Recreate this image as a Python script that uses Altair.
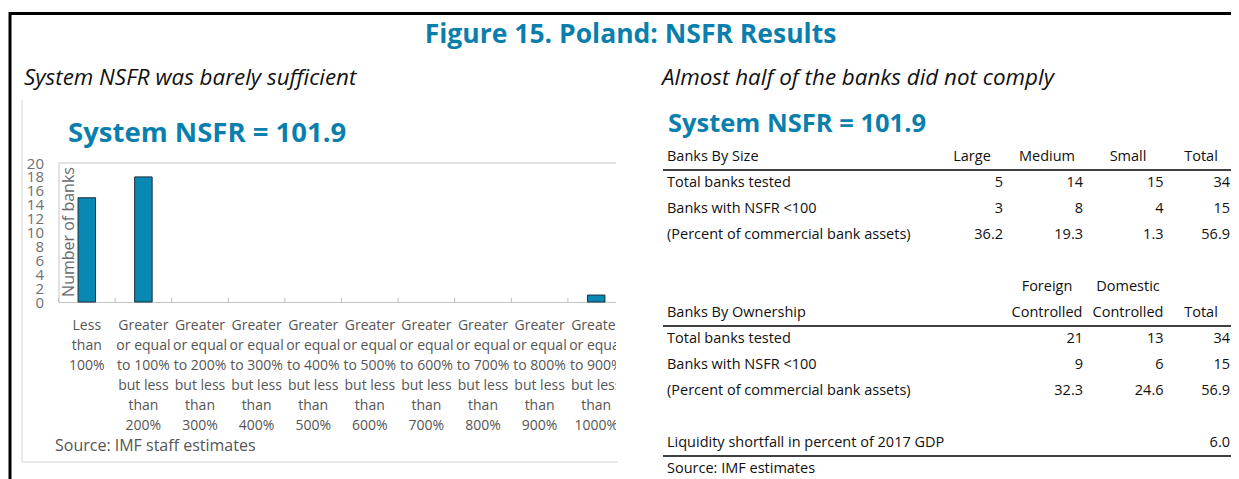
import altair as alt
import pandas as pd

FONT = "Open Sans"
BLUE = "#0a7fad"
BAR_BLUE = "#0789b3"
W, H = 1223, 471

# ---------------- data ----------------
nsfr_bins = [
    "Less\nthan\n100%",
    "Greater\nor equal\nto 100%\nbut less\nthan\n200%",
    "Greater\nor equal\nto 200%\nbut less\nthan\n300%",
    "Greater\nor equal\nto 300%\nbut less\nthan\n400%",
    "Greater\nor equal\nto 400%\nbut less\nthan\n500%",
    "Greater\nor equal\nto 500%\nbut less\nthan\n600%",
    "Greater\nor equal\nto 600%\nbut less\nthan\n700%",
    "Greater\nor equal\nto 700%\nbut less\nthan\n800%",
    "Greater\nor equal\nto 800%\nbut less\nthan\n900%",
    "Greater\nor equal\nto 900%\nbut less\nthan\n1000%",
]
bank_counts = [15, 18, 0, 0, 0, 0, 0, 0, 0, 1]
y_ticks = [0, 2, 4, 6, 8, 10, 12, 14, 16, 18, 20]

row_labels = ["Total banks tested", "Banks with NSFR <100", "(Percent of commercial bank assets)"]

size_cols = ["Large", "Medium", "Small", "Total"]
size_tested = [5, 14, 15, 34]
size_below = [3, 8, 4, 15]
size_pct = [36.2, 19.3, 1.3, 56.9]

own_cols_top = ["Foreign", "Domestic"]
own_cols = ["Controlled", "Controlled", "Total"]
own_tested = [21, 13, 34]
own_below = [9, 6, 15]
own_pct = [32.3, 24.6, 56.9]

liquidity_label = "Liquidity shortfall in percent of 2017 GDP"
liquidity_shortfall = 6.0

# ---------------- table records ----------------
table_rows = ["h1", "s_tested", "s_below", "s_pct", "gap1", "h2a", "h2b",
              "o_tested", "o_below", "o_pct", "gap2", "liq", "src"]
recs = []
recs.append({"row": "h1", "col": "label", "kind": "label", "text": "Banks By Size"})
for c, name in zip(["c1", "c2", "c3", "c4"], size_cols):
    recs.append({"row": "h1", "col": c, "kind": "head", "text": name})
for key, lab, vals, pct in [("s_tested", row_labels[0], size_tested, False),
                            ("s_below", row_labels[1], size_below, False),
                            ("s_pct", row_labels[2], size_pct, True)]:
    recs.append({"row": key, "col": "label", "kind": "label", "text": lab})
    for c, v in zip(["c1", "c2", "c3", "c4"], vals):
        recs.append({"row": key, "col": c, "kind": "value",
                     "text": f"{v:.1f}" if pct else f"{v:d}"})
for c, name in zip(["c2", "c3"], own_cols_top):
    recs.append({"row": "h2a", "col": c, "kind": "head", "text": name})
recs.append({"row": "h2b", "col": "label", "kind": "label", "text": "Banks By Ownership"})
for c, name in zip(["c2", "c3", "c4"], own_cols):
    recs.append({"row": "h2b", "col": c, "kind": "head", "text": name})
for key, lab, vals, pct in [("o_tested", row_labels[0], own_tested, False),
                            ("o_below", row_labels[1], own_below, False),
                            ("o_pct", row_labels[2], own_pct, True)]:
    recs.append({"row": key, "col": "label", "kind": "label", "text": lab})
    for c, v in zip(["c2", "c3", "c4"], vals):
        recs.append({"row": key, "col": c, "kind": "value",
                     "text": f"{v:.1f}" if pct else f"{v:d}"})
recs.append({"row": "liq", "col": "label", "kind": "label", "text": liquidity_label})
recs.append({"row": "liq", "col": "c4", "kind": "value", "text": f"{liquidity_shortfall:.1f}"})
recs.append({"row": "src", "col": "label", "kind": "label", "text": "Source: IMF estimates"})
cells = pd.DataFrame(recs)
rule_rows = pd.DataFrame({"row": ["h1", "h2b", "liq"]})

one = pd.DataFrame({"_": [0]})


def text_at(txt, x, y, size, color="#111111", weight="normal", style="normal",
            align="left", baseline="alphabetic", angle=0):
    return alt.Chart(one).mark_text(
        text=txt, font=FONT, fontSize=size, fontWeight=weight, fontStyle=style,
        color=color, align=align, baseline=baseline, angle=angle
    ).encode(x=alt.value(x), y=alt.value(y))


def hline(x1, x2, y, color, width):
    return alt.Chart(one).mark_rule(color=color, strokeWidth=width).encode(
        x=alt.value(x1), x2=alt.value(x2), y=alt.value(y))


def vline(x, y1, y2, color, width):
    return alt.Chart(one).mark_rule(color=color, strokeWidth=width).encode(
        x=alt.value(x), y=alt.value(y1), y2=alt.value(y2))


# ---------------- bar chart ----------------
bars_df = pd.DataFrame({"bin": nsfr_bins, "banks": bank_counts})
X0, X1 = 50.5, 616.5
xs = alt.Scale(domain=nsfr_bins, range=[X0, X1], paddingInner=0, paddingOuter=0)
ys = alt.Scale(domain=[0, 20], range=[294, 155], nice=False, zero=True)

xaxis = alt.Axis(orient="bottom", offset=-(H - 294), title=None, ticks=False, grid=False,
                 domainColor="#c4c4c4", labelAngle=0,
                 labelExpr="split(datum.label, '\\n')", labelFont=FONT,
                 labelFontSize=14, labelColor="#555555", labelLineHeight=20,
                 labelPadding=16, labelOverlap=False)
yaxis = alt.Axis(orient="left", offset=-X0, title=None, values=y_ticks,
                 ticks=False, grid=False, domainColor="#c4c4c4", labelFont=FONT,
                 labelFontSize=15, labelColor="#707070", labelPadding=15,
                 labelOverlap=False, labelFlush=False)

ticks = alt.Chart(bars_df).mark_rule(color="#bdbdbd").encode(
    x=alt.X("bin:N", sort=nsfr_bins, scale=xs, axis=xaxis, bandPosition=0),
    y=alt.YDatum(0, scale=ys, axis=yaxis, type="quantitative"),
    y2=alt.Y2Datum(0.6),
)
topline = alt.Chart(one).mark_rule(color="#c4c4c4").encode(
    y=alt.YDatum(20, scale=ys, axis=yaxis, type="quantitative"),
    x=alt.value(X0), x2=alt.value(X1),
)
bars = alt.Chart(bars_df).transform_filter("datum.banks > 0").mark_bar(
    size=17.5, color=BAR_BLUE, stroke="#1e2e38", strokeWidth=1
).encode(
    x=alt.X("bin:N", sort=nsfr_bins, scale=xs, axis=xaxis),
    y=alt.Y("banks:Q", scale=ys, axis=yaxis),
)
bar_layer = alt.layer(ticks, topline, bars)

# the source figure's left panel is cropped at its right edge
crop_mask = alt.Chart(one).mark_rect(color="white").encode(
    x=alt.value(608), x2=alt.value(650), y=alt.value(140), y2=alt.value(452))

# ---------------- table ----------------
TFS = 14.5
ts = alt.Scale(type="point", domain=table_rows, range=[149, 461], padding=0)
head_x = {"c1": 964, "c2": 1039, "c3": 1120, "c4": 1193}
val_x = {"c1": 995, "c2": 1075, "c3": 1155.5, "c4": 1222}

tlayers = [
    alt.Chart(cells).transform_filter("datum.kind == 'label'").mark_text(
        align="left", baseline="middle", font=FONT, fontSize=TFS, color="#111111"
    ).encode(x=alt.value(659), y=alt.Y("row:N", scale=ts, axis=None), text="text:N")
]
for c in ["c1", "c2", "c3", "c4"]:
    tlayers.append(
        alt.Chart(cells).transform_filter(
            f"datum.kind == 'head' && datum.col == '{c}'").mark_text(
            align="center", baseline="middle", font=FONT, fontSize=TFS, color="#111111"
        ).encode(x=alt.value(head_x[c]), y=alt.Y("row:N", scale=ts, axis=None), text="text:N"))
    tlayers.append(
        alt.Chart(cells).transform_filter(
            f"datum.kind == 'value' && datum.col == '{c}'").mark_text(
            align="right", baseline="middle", font=FONT, fontSize=TFS, color="#111111"
        ).encode(x=alt.value(val_x[c]), y=alt.Y("row:N", scale=ts, axis=None), text="text:N"))
tlayers.append(
    alt.Chart(rule_rows).mark_rule(color="black", strokeWidth=1.5, yOffset=13).encode(
        y=alt.Y("row:N", scale=ts, axis=None), x=alt.value(655), x2=alt.value(W)))
table_layer = alt.layer(*tlayers)

# ---------------- decorations & titles ----------------
decor = [
    hline(1, W, 5.5, "black", 3),
    vline(2, 4, H, "black", 3),
    vline(14, 92, 454, "#e2e2e2", 1.5),
    hline(14, 610, 454, "#e2e2e2", 1.5),
    text_at("Figure 15. Poland: NSFR Results", 622.5, 35, 26.5, color=BLUE,
            weight="bold", align="center"),
    text_at("System NSFR was barely sufficient", 16, 77, 22.4, style="italic"),
    text_at("Almost half of the banks did not comply", 654, 77, 22.4, style="italic"),
    text_at("System NSFR = 101.9", 60, 134, 27.5, color=BLUE, weight="bold"),
    text_at("System NSFR = 101.9", 660, 124, 25.5, color=BLUE, weight="bold"),
    text_at("Number of banks", 53, 224, 16, color="#6a6a6a", align="center",
            baseline="top", angle=270),
    text_at("Source: IMF staff estimates", 47, 443, 16, color="#555555"),
]

chart = alt.layer(*decor, bar_layer, crop_mask, table_layer).resolve_scale(
    x="independent", y="independent"
).properties(
    width=W, height=H, autosize=alt.AutoSizeParams(type="none"), padding=0
).configure_view(stroke=None)

chart.save("out.html", embed_options={"renderer": "svg", "actions": False})
